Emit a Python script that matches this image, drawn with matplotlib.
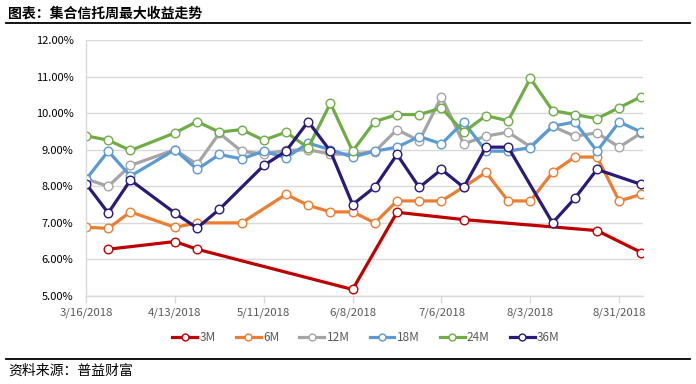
import numpy as np
import pandas as pd
import matplotlib
matplotlib.use("Agg")
import matplotlib.pyplot as plt

plt.rcParams["font.family"] = ["Noto Sans CJK SC", "DejaVu Sans"]

TITLE = "图表：集合信托周最大收益走势"
SOURCE = "资料来源：普益财富"

weeks = pd.date_range("2018-03-16", periods=26, freq="7D")
nan = np.nan
# weekly max yield (%), nan = no data that week
y3m  = [nan, 6.28, nan, nan, 6.49, 6.28, nan, nan, nan, nan, nan, nan, 5.18,
        nan, 7.29, nan, nan, 7.09, nan, nan, nan, nan, nan, 6.79, nan, 6.19]
y6m  = [6.88, 6.85, 7.30, nan, 6.88, 7.00, nan, 7.00, nan, 7.78, 7.48, 7.30, 7.30,
        7.00, 7.60, 7.60, 7.60, 7.98, 8.38, 7.60, 7.60, 8.38, 8.80, 8.80, 7.60, 7.78]
y12m = [8.20, 8.00, 8.57, nan, 9.00, 8.60, 9.45, 8.96, 8.88, 8.98, 9.00, 8.88, 8.88,
        8.95, 9.55, 9.24, 10.45, 9.16, 9.37, 9.48, 9.08, 9.64, 9.37, 9.46, 9.07, 9.46]
y18m = [8.19, 8.96, 8.28, nan, 9.00, 8.46, 8.87, 8.75, 8.96, 8.78, 9.18, 9.00, 8.80,
        8.96, 9.07, 9.36, 9.16, 9.76, 8.96, 8.96, 9.06, 9.64, 9.76, 8.96, 9.76, 9.48]
y24m = [9.38, 9.26, 8.98, nan, 9.46, 9.77, 9.48, 9.55, 9.26, 9.48, 9.05, 10.27, 8.96,
        9.77, 9.96, 9.96, 10.14, 9.48, 9.93, 9.79, 10.95, 10.07, 9.96, 9.85, 10.15, 10.45]
y36m = [8.07, 7.27, 8.17, nan, 7.27, 6.86, 7.37, nan, 8.57, 8.96, 9.77, 8.96, 7.50,
        7.98, 8.87, 7.97, 8.46, 7.97, 9.07, 9.07, nan, 7.00, 7.67, 8.46, nan, 8.05]

labels = ["3M", "6M", "12M", "18M", "24M", "36M"]
colors = ["#C00000", "#ED7D31", "#A5A5A5", "#5B9BD5", "#70AD47", "#2A1B7A"]

tick_dates = pd.to_datetime(["2018-03-16", "2018-04-13", "2018-05-11", "2018-06-08",
                             "2018-07-06", "2018-08-03", "2018-08-31"])
tick_labels = ["3/16/2018", "4/13/2018", "5/11/2018", "6/8/2018",
               "7/6/2018", "8/3/2018", "8/31/2018"]

fig = plt.figure(figsize=(6.96, 3.84), dpi=100)
ax = fig.add_axes([0.1236, 0.229, 0.8007, 0.667])

for lab, col, ys in zip(labels, colors, [y3m, y6m, y12m, y18m, y24m, y36m]):
    s = pd.Series(ys, index=weeks).dropna()
    ax.plot(s.index, s.values, "-o", color=col, lw=2.3, ms=6.2,
            mfc="white", mec=col, mew=1.0, label=lab, solid_joinstyle="miter")

ax.set_ylim(5, 12)
ax.set_yticks(np.arange(5, 12.01, 1))
ax.set_yticklabels([f"{v:.2f}%" for v in np.arange(5, 12.01, 1)])
ax.set_xlim(weeks[0], weeks[-1] + pd.Timedelta(days=0.6))
ax.set_xticks(tick_dates)
ax.set_xticklabels(tick_labels)

ax.grid(axis="y", color="#D9D9D9", lw=1.0)
ax.set_axisbelow(True)
for sp in ["top", "right"]:
    ax.spines[sp].set_visible(False)
for sp in ["left", "bottom"]:
    ax.spines[sp].set_color("#D9D9D9")
    ax.spines[sp].set_linewidth(1.0)
ax.tick_params(axis="y", length=0, labelsize=8, colors="black", pad=9)
ax.tick_params(axis="x", length=5, width=1.0, color="#D9D9D9", labelsize=8.2,
               labelcolor="#595959", pad=3)

fig.legend(loc="center", bbox_to_anchor=(0.526, 0.122), ncol=6, frameon=False,
           fontsize=8.5, handlelength=2.1, columnspacing=1.7, handletextpad=0.2,
           labelcolor="#595959", markerscale=0.8)

fig.text(0.012, 0.965, TITLE, fontsize=10, fontweight="bold", va="center", ha="left")
fig.add_artist(plt.Line2D([0.008, 0.992], [0.94, 0.94], color="black", lw=1.3))
fig.add_artist(plt.Line2D([0.008, 0.992], [0.066, 0.066], color="black", lw=1.3))
fig.text(0.012, 0.035, SOURCE, fontsize=10, va="center", ha="left")

fig.savefig("out.png", dpi=100)
